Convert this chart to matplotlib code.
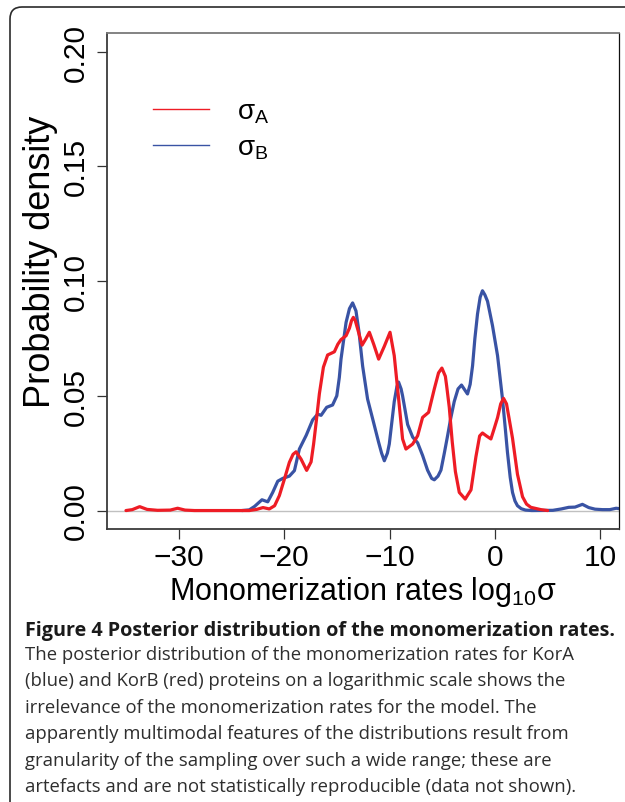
import matplotlib
matplotlib.use('Agg')
import matplotlib.pyplot as plt
from matplotlib.patches import FancyBboxPatch
from matplotlib.lines import Line2D

# ---------------- data ----------------
sigma_a_x = [-35.0, -34.4, -33.7, -33.0, -32.0, -30.8, -30.1, -29.4, -28.5, -23.3,
             -22.6, -22.0, -21.4, -20.9, -20.45, -19.97, -19.5, -19.15, -18.86, -18.39,
             -17.86, -17.44, -17.2, -16.97, -16.65, -16.27, -15.87, -15.5, -15.23, -14.9,
             -14.6, -14.12, -13.8, -13.6, -13.43, -13.25, -13.02, -12.6, -12.25, -11.91,
             -11.5, -11.03, -10.5, -9.95, -9.55, -9.07, -8.76, -8.44, -7.8, -7.33,
             -6.86, -6.29, -5.75, -5.35, -5.03, -4.7, -4.58, -4.33, -4.05, -3.75,
             -3.38, -2.82, -2.27, -1.8, -1.45, -1.18, -0.8, -0.38, -0.05, 0.25,
             0.55, 0.82, 1.1, 1.35, 1.67, 2.14, 2.62, 3.0, 3.41, 4.36, 5.0]
sigma_a_y = [0.0, 0.0004, 0.0017, 0.0005, 0.0001, 0.0002, 0.001, 0.0002, 0.0, 0.0,
             0.0005, 0.0013, 0.0007, 0.0021, 0.0065, 0.0137, 0.021, 0.0245, 0.0256, 0.0224,
             0.0175, 0.0212, 0.029, 0.038, 0.051, 0.0625, 0.0678, 0.0686, 0.0692, 0.0725,
             0.0745, 0.0762, 0.0795, 0.0828, 0.0842, 0.0828, 0.0791, 0.0721, 0.0748, 0.0777,
             0.0725, 0.066, 0.0715, 0.0777, 0.0675, 0.0457, 0.0312, 0.0268, 0.029, 0.0326,
             0.0406, 0.0428, 0.053, 0.060, 0.0621, 0.0585, 0.0544, 0.045, 0.030, 0.017,
             0.0079, 0.005, 0.009, 0.0235, 0.0325, 0.0338, 0.0325, 0.0312, 0.036, 0.0405,
             0.0465, 0.0489, 0.0465, 0.040, 0.0315, 0.0158, 0.006, 0.0028, 0.0014, 0.0004, 0.0]

sigma_b_x = [-24.0, -23.3, -22.8, -22.1, -21.55, -21.08, -20.6, -20.13, -19.5, -19.02,
             -18.55, -17.9, -17.29, -16.82, -16.49, -15.96, -15.4, -15.0, -14.76, -14.6,
             -14.12, -13.8, -13.5, -13.18, -12.9, -12.55, -12.08, -11.6, -11.03, -10.75,
             -10.49, -10.2, -10.02, -9.55, -9.3, -9.14, -8.9, -8.76, -8.28, -7.8,
             -7.33, -6.86, -6.39, -6.0, -5.75, -5.4, -5.12, -4.8, -4.49, -4.2,
             -3.86, -3.5, -3.17, -2.85, -2.6, -2.35, -2.12, -1.9, -1.65, -1.4,
             -1.18, -0.95, -0.7, -0.23, 0.25, 0.72, 1.0, 1.19, 1.45, 1.67,
             1.9, 2.14, 2.5, 2.9, 3.5, 5.5, 6.3, 7.0, 7.6, 8.3,
             8.9, 9.5, 10.2, 10.9, 11.5, 12.0]
sigma_b_y = [0.0, 0.0003, 0.0018, 0.0047, 0.0038, 0.0079, 0.0128, 0.014, 0.015, 0.0174,
             0.0268, 0.0328, 0.0395, 0.042, 0.0415, 0.045, 0.046, 0.050, 0.058, 0.066,
             0.082, 0.088, 0.0905, 0.087, 0.078, 0.063, 0.0486, 0.040, 0.0297, 0.025,
             0.0217, 0.025, 0.029, 0.0475, 0.054, 0.056, 0.053, 0.050, 0.0375, 0.032,
             0.0295, 0.024, 0.0176, 0.014, 0.0134, 0.015, 0.0176, 0.025, 0.0326, 0.040,
             0.0475, 0.053, 0.0547, 0.0525, 0.0508, 0.055, 0.0631, 0.075, 0.0857, 0.093,
             0.0958, 0.094, 0.0912, 0.0806, 0.0675, 0.0486, 0.035, 0.0254, 0.0145, 0.0079,
             0.0042, 0.0021, 0.0008, 0.0002, 0.0, 0.0001, 0.0007, 0.0014, 0.0015, 0.0027,
             0.0013, 0.0006, 0.0004, 0.0004, 0.001, 0.0007]

x_ticks = [-30, -20, -10, 0, 10]
x_tick_labels = ['\u221230', '\u221220', '\u221210', '0', '10']
y_ticks = [0.00, 0.05, 0.10, 0.15, 0.20]
y_tick_labels = ['0.00', '0.05', '0.10', '0.15', '0.20']
series_labels = [r'$\sigma_{\mathrm{A}}$', r'$\sigma_{\mathrm{B}}$']

caption_title = 'Figure 4 Posterior distribution of the monomerization rates.'
caption_lines = [
    'The posterior distribution of the monomerization rates for KorA',
    '(blue) and KorB (red) proteins on a logarithmic scale shows the',
    'irrelevance of the monomerization rates for the model. The',
    'apparently multimodal features of the distributions result from',
    'granularity of the sampling over such a wide range; these are',
    'artefacts and are not statistically reproducible (data not shown).',
]

RED = '#ee1c25'
BLUE = '#3953a4'

# ---------------- style ----------------
plt.rcParams['font.family'] = ['Liberation Sans', 'DejaVu Sans']
plt.rcParams['mathtext.fontset'] = 'custom'
plt.rcParams['mathtext.rm'] = 'Liberation Sans'
plt.rcParams['mathtext.it'] = 'Liberation Sans'
plt.rcParams['mathtext.bf'] = 'Liberation Sans:bold'

W, H = 625, 803
fig = plt.figure(figsize=(W / 100, H / 100), dpi=100)

# outer rounded frame (extends beyond right / bottom edges)
frame = FancyBboxPatch((0.10, -0.6), 6.6, 7.95 + 0.6,
                       boxstyle='round,pad=0,rounding_size=0.12',
                       transform=fig.dpi_scale_trans, fill=False,
                       edgecolor='#2b2b2b', linewidth=1.2)
fig.add_artist(frame)

ax = fig.add_axes([107 / W, 1 - 529.9 / H, 512.3 / W, 495.6 / H])
ax.set_xlim(-36.8, 11.8)
ax.set_ylim(-0.008, 0.208)

ax.axhline(0, color='#c0c0c0', lw=1.0, zorder=1)
ax.plot(sigma_b_x, sigma_b_y, color=BLUE, lw=2.3, solid_joinstyle='round',
        solid_capstyle='round', zorder=2)
ax.plot(sigma_a_x, sigma_a_y, color=RED, lw=2.3, solid_joinstyle='round',
        solid_capstyle='round', zorder=3)

ax.set_xticks(x_ticks)
ax.set_xticklabels(x_tick_labels, fontsize=21.5)
ax.set_yticks(y_ticks)
ax.set_yticklabels(y_tick_labels, fontsize=21.5, rotation=90, va='center')
ax.tick_params(axis='both', direction='out', length=7.2, width=0.9, color='#333333')
ax.tick_params(axis='x', pad=3)
ax.tick_params(axis='y', pad=5)

for side in ['left', 'bottom']:
    ax.spines[side].set_color('#3a3a3a')
    ax.spines[side].set_linewidth(1.3)
ax.spines['top'].set_color('#7a7a7a')
ax.spines['top'].set_linewidth(1.3)
ax.spines['right'].set_color('#111111')
ax.spines['right'].set_linewidth(0.9)

ax.set_xlabel(r'Monomerization rates log$_{10}\sigma$', fontsize=22, labelpad=2)
ax.set_ylabel('Probability density', fontsize=26)
ax.yaxis.set_label_coords(-0.095, 0.54)

handles = [Line2D([], [], color=RED, lw=1.0), Line2D([], [], color=BLUE, lw=1.0)]
ax.legend(handles, series_labels, loc='upper left', bbox_to_anchor=(0.0904, 0.8684),
          frameon=False, fontsize=20, handlelength=2.01, handletextpad=1.0,
          labelspacing=0.34, borderpad=0, borderaxespad=0)

# caption
fig.text(25 / W, 1 - 636 / H, caption_title, family=['Open Sans', 'DejaVu Sans'],
         fontweight='bold', fontsize=14.2, color='#1a1a1a', va='baseline', ha='left')
for i, line in enumerate(caption_lines):
    fig.text(25 / W, 1 - (660 + 26.5 * i) / H, line, family=['Open Sans', 'DejaVu Sans'],
             fontsize=13.3, color='#2e2e2e', va='baseline', ha='left')

fig.savefig('out.png', dpi=100)
